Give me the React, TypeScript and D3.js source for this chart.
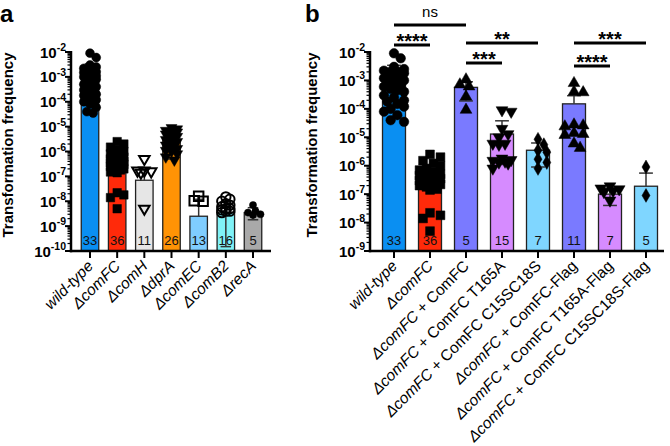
import React from 'react';
import * as d3 from 'd3';

// ---- data ----
const groupsA = ['wild-type', 'ΔcomFC', 'ΔcomH', 'ΔdprA', 'ΔcomEC', 'ΔcomB2', 'ΔrecA'];
const meansA = [1.3e-3, 3e-7, 7e-8, 3e-6, 2.5e-9, 3.6e-9, 3.5e-9];
const errHiA = [3.3e-3, 7e-7, 2e-7, 5.5e-6, 1.2e-8, 9e-9, 5.5e-9];
const errLoA = [null, null, null, 5e-7, null, 1.5e-10, 1.8e-9];
const countsA = [33, 36, 11, 26, 13, 16, 5];

const wildType = [9e-3, 6e-3, 3e-3, 2.5e-3, 2.2e-3, 2e-3, 2e-3, 1.8e-3, 1.6e-3, 1.5e-3, 1.4e-3, 1.3e-3,
  1.2e-3, 1.1e-3, 1e-3, 9e-4, 8e-4, 7e-4, 6e-4, 5e-4, 4.5e-4, 4e-4, 3e-4, 2.5e-4, 2e-4, 1.8e-4,
  1.5e-4, 1.2e-4, 1e-4, 8e-5, 6e-5, 4e-5, 3.5e-5];
const comFC = [2.5e-6, 2e-6, 1.5e-6, 1.2e-6, 1e-6, 8e-7, 7e-7, 6e-7, 5e-7, 5e-7, 4.5e-7, 4e-7, 4e-7,
  3.5e-7, 3.5e-7, 3e-7, 3e-7, 3e-7, 2.5e-7, 2.5e-7, 2.2e-7, 2e-7, 2e-7, 1.8e-7, 1.5e-7, 1.4e-7,
  2.2e-8, 1.8e-8, 1.4e-8, 5e-9];
const comH = [5e-7, 1.7e-7, 1.6e-7, 1.7e-7, 1.4e-7, 5e-9];
const dprA = [9e-6, 8e-6, 7e-6, 7e-6, 6e-6, 6e-6, 5.5e-6, 5e-6, 5e-6, 4.5e-6, 4e-6, 4e-6, 3.5e-6, 3e-6,
  3e-6, 2.5e-6, 2.2e-6, 2e-6, 1.8e-6, 1.5e-6, 1.3e-6, 1.1e-6, 1e-6, 8e-7, 6e-7, 4.5e-7];
const comEC = [1.6e-8, 1e-8, 1.05e-8];
const comB2 = [1.5e-8, 1.2e-8, 1e-8, 8e-9, 7e-9, 6e-9, 5e-9, 5e-9, 4.5e-9, 4e-9, 4e-9, 3.5e-9];
const recA = [7e-9, 4e-9, 3.5e-9, 3e-9, 2.8e-9];
const pointsA = [wildType, comFC, comH, dprA, comEC, comB2, recA];

const groupsB = ['wild-type', 'ΔcomFC', 'ΔcomFC + ComFC', 'ΔcomFC + ComFC T165A', 'ΔcomFC + ComFC C15SC18S',
  'ΔcomFC + ComFC-Flag', 'ΔcomFC + ComFC T165A-Flag', 'ΔcomFC + ComFC C15SC18S-Flag'];
const meansB = [1.4e-3, 3e-7, 5.7e-4, 1.3e-5, 3.5e-6, 1.5e-4, 1e-7, 1.9e-7];
const errHiB = [3.4e-3, 7e-7, 9e-4, 3.8e-5, 6.3e-6, 2.9e-4, 1.6e-7, 5.5e-7];
const errLoB = [null, null, 1.9e-4, null, 9e-7, null, 4e-8, null];
const countsB = [33, 36, 5, 15, 7, 11, 7, 5];

const rescue = [1.08e-3, 6.1e-4, 7.2e-4, 2.7e-4, 9.2e-5];
const t165a = [9e-5, 8e-5, 2e-5, 1.3e-5, 1e-5, 6e-6, 6e-6, 5.5e-6, 1.8e-6, 1.6e-6, 1.5e-6, 1.4e-6, 1.3e-6, 1.2e-6, 8e-7];
const c15s = [8.5e-6, 5.5e-6, 3.5e-6, 3e-6, 1.7e-6, 1.3e-6, 8e-7];
const rescueFlag = [8e-4, 4e-4, 3.8e-4, 2.8e-5, 2.6e-5, 2.4e-5, 1.4e-5, 1.3e-5, 1.2e-5, 6e-6, 4.2e-6];
const t165aFlag = [1.9e-7, 1.5e-7, 1.2e-7, 1.3e-7, 1.6e-7, 6e-8];
const c15sFlag = [9e-7, 9e-8];
const pointsB = [wildType, comFC, rescue, t165a, c15s, rescueFlag, t165aFlag, c15sFlag];

// significance: [from, to, label]
const sigB: [number, number, string][] = [
  [0, 2, 'ns'], [0, 1, '****'], [2, 4, '**'], [2, 3, '***'], [5, 7, '***'], [5, 6, '****'],
];

// ---- styles / layout ----
const FONT = 'Liberation Sans, Arial, Helvetica, sans-serif';
const AXIS_Y = 251;
const TOP_Y = 52;

const colorsA = ['#0a8ff2', '#ff2a0a', '#e6e6e6', '#ff9305', '#7fcdff', '#80f2f7', '#a9a9a9'];
const markA = [
  { t: 'circle', s: 62, fill: true }, { t: 'square', s: 72, fill: true }, { t: 'down', s: 48, fill: false },
  { t: 'down', s: 52, fill: true }, { t: 'square', s: 90, fill: false }, { t: 'circle', s: 70, fill: false },
  { t: 'circle', s: 40, fill: true },
];
const colorsB = ['#0a8ff2', '#ff2a0a', '#7a7aff', '#d68bff', '#7fd6ff', '#7a7aff', '#d68bff', '#7fd6ff'];
const markB = [
  { t: 'circle', s: 72, fill: true }, { t: 'square', s: 78, fill: true }, { t: 'up', s: 60, fill: true },
  { t: 'down', s: 60, fill: true }, { t: 'diamond', s: 55, fill: true }, { t: 'up', s: 60, fill: true },
  { t: 'down', s: 60, fill: true }, { t: 'diamond', s: 55, fill: true },
];
const sigY = [25, 45, 43, 63, 43, 66];

function symbolPath(t: string, s: number) {
  const type = t === 'circle' ? d3.symbolCircle : t === 'square' ? d3.symbolSquare
    : t === 'diamond' ? d3.symbolDiamond : d3.symbolTriangle;
  return d3.symbol().type(type).size(s)() as string;
}

// simple deterministic beeswarm offsets
function swarm(ys: number[], r: number, maxOff: number) {
  const placed: { x: number; y: number }[] = [];
  return ys.map((y) => {
    let best = 0, bestScore = Infinity;
    for (let k = 0; k <= 24; k++) {
      const off = (k % 2 === 1 ? 1 : -1) * Math.ceil(k / 2) * r * 0.7;
      if (Math.abs(off) > maxOff) continue;
      const ov = placed.reduce((m, p) => Math.max(m, 1.7 * r - Math.hypot(p.x - off, p.y - y)), 0);
      if (ov <= 0) { best = off; bestScore = 0; break; }
      if (ov < bestScore) { bestScore = ov; best = off; }
    }
    placed.push({ x: best, y });
    return best;
  });
}

function labelParts(label: string) {
  if (label === 'wild-type') return <tspan fontStyle="italic">wild-type</tspan>;
  const m = label.match(/^(Δ[A-Za-z0-9]+)(.*)$/);
  if (!m) return <tspan>{label}</tspan>;
  return (
    <>
      <tspan fontStyle="italic">{m[1]}</tspan>
      <tspan>{m[2]}</tspan>
    </>
  );
}

type PanelProps = {
  groups: string[]; means: number[]; errHi: (number | null)[]; errLo: (number | null)[];
  counts: number[]; points: number[][]; colors: string[]; marks: { t: string; s: number; fill: boolean }[];
  yMin: number; x0: number; x1: number; first: number; last: number; barW: number; labelX: number; tickX: number;
};

const Panel = (p: PanelProps) => {
  const y = d3.scaleLog().domain([p.yMin, 1e-2]).range([AXIS_Y, TOP_Y]);
  const x = d3.scalePoint<string>().domain(p.groups).range([p.first, p.last]);
  const lo = Math.round(Math.log10(p.yMin));
  const majors = d3.range(lo, -1);
  const minors: number[] = [];
  majors.slice(0, -1).forEach((e) => d3.range(2, 10).forEach((m) => minors.push(m * Math.pow(10, e))));

  return (
    <g fontFamily={FONT}>
      {/* bars */}
      {p.groups.map((g, i) => {
        const cx = x(g)!;
        return (
          <rect key={g} x={cx - p.barW / 2} y={y(p.means[i])} width={p.barW} height={AXIS_Y - y(p.means[i])}
            fill={p.colors[i]} stroke="#222" strokeWidth={1.3} />
        );
      })}
      {/* error bars */}
      {p.groups.map((g, i) => {
        const cx = x(g)!;
        const hi = p.errHi[i], lw = p.errLo[i];
        const cap = p.barW * 0.3;
        return (
          <g key={'e' + g} stroke="#333" strokeWidth={1.5}>
            {hi != null && <line x1={cx} x2={cx} y1={y(p.means[i])} y2={y(hi)} />}
            {hi != null && <line x1={cx - cap} x2={cx + cap} y1={y(hi)} y2={y(hi)} />}
            {lw != null && <line x1={cx} x2={cx} y1={y(p.means[i])} y2={y(lw)} />}
            {lw != null && <line x1={cx - cap} x2={cx + cap} y1={y(lw)} y2={y(lw)} />}
          </g>
        );
      })}
      {/* points */}
      {p.groups.map((g, i) => {
        const cx = x(g)!;
        const mk = p.marks[i];
        const r = Math.sqrt(mk.s / Math.PI) + (mk.fill ? 0 : 1);
        const ys = p.points[i].map((v) => y(v));
        const offs = swarm(ys, r, p.barW / 2 - 1);
        const d = symbolPath(mk.t, mk.s);
        return (
          <g key={'p' + g}>
            {ys.map((yy, j) => (
              <path key={j} d={d}
                transform={`translate(${cx + offs[j]},${yy})${mk.t === 'down' ? ' rotate(180)' : ''}`}
                fill={mk.fill ? '#000' : 'none'} stroke="#000" strokeWidth={mk.fill ? 0.5 : 2} />
            ))}
          </g>
        );
      })}
      {/* counts */}
      {p.groups.map((g, i) => (
        <text key={'n' + g} x={x(g)!} y={245} textAnchor="middle" fontSize={13} fill="#111">{p.counts[i]}</text>
      ))}
      {/* axes */}
      <line x1={p.x0} x2={p.x0} y1={TOP_Y - 1} y2={AXIS_Y + 1.25} stroke="#000" strokeWidth={2.5} />
      <line x1={p.x0 - 1.25} x2={p.x1} y1={AXIS_Y} y2={AXIS_Y} stroke="#000" strokeWidth={2.5} />
      {majors.map((e) => (
        <g key={'t' + e}>
          <line x1={p.x0 - 6} x2={p.x0} y1={y(Math.pow(10, e))} y2={y(Math.pow(10, e))} stroke="#000" strokeWidth={2} />
          <text x={p.tickX} y={y(Math.pow(10, e)) + 5.5} textAnchor="end" fontSize={15} fontWeight="bold">
            <tspan>10</tspan>
            <tspan dy={-6.5} fontSize={10.5}>{String(e)}</tspan>
          </text>
        </g>
      ))}
      {minors.map((v, k) => (
        <line key={'m' + k} x1={p.x0 - 3.5} x2={p.x0} y1={y(v)} y2={y(v)} stroke="#000" strokeWidth={1.2} />
      ))}
      {p.groups.map((g) => (
        <line key={'xt' + g} x1={x(g)!} x2={x(g)!} y1={AXIS_Y} y2={AXIS_Y + 7} stroke="#000" strokeWidth={2} />
      ))}
      {p.groups.map((g) => (
        <text key={'xl' + g} transform={`translate(${x(g)! + 4},${AXIS_Y + 16}) rotate(-45)`} textAnchor="end"
          fontSize={15.5} fill="#000">{labelParts(g)}</text>
      ))}
      <text transform={`translate(${p.labelX},145) rotate(-90)`} textAnchor="middle" fontSize={15} fontWeight="bold">
        Transformation frequency
      </text>
    </g>
  );
};

const Significance = () => {
  const x = d3.scalePoint<string>().domain(groupsB).range([394, 646]);
  return (
    <g fontFamily={FONT}>
      {sigB.map(([a, b, lab], i) => {
        const xa = x(groupsB[a])!, xb = x(groupsB[b])!;
        const ly = sigY[i];
        return (
          <g key={i}>
            <line x1={xa} x2={xb} y1={ly} y2={ly} stroke="#000" strokeWidth={3} />
            {lab === 'ns'
              ? <text x={(xa + xb) / 2} y={ly - 8} textAnchor="middle" fontSize={15}>ns</text>
              : <text x={(xa + xb) / 2} y={ly + 3} textAnchor="middle" fontSize={20} fontWeight="bold">{lab}</text>}
          </g>
        );
      })}
    </g>
  );
};

export default function App() {
  return (
    <svg width={670} height={446} style={{ position: 'absolute', left: 0, top: 0, background: '#fff' }}>
      <rect width={670} height={446} fill="#fff" />
      <text x={0} y={22} fontFamily={FONT} fontSize={24} fontWeight="bold">a</text>
      <text x={305} y={22} fontFamily={FONT} fontSize={24} fontWeight="bold">b</text>
      <Panel groups={groupsA} means={meansA} errHi={errHiA} errLo={errLoA} counts={countsA} points={pointsA}
        colors={colorsA} marks={markA} yMin={1e-10} x0={71} x1={271} first={90} last={253} barW={17.5}
        labelX={13} tickX={66} />
      <Panel groups={groupsB} means={meansB} errHi={errHiB} errLo={errLoB} counts={countsB} points={pointsB}
        colors={colorsB} marks={markB} yMin={1e-9} x0={370} x1={664} first={394} last={646} barW={23}
        labelX={317} tickX={365} />
      <Significance />
    </svg>
  );
}
